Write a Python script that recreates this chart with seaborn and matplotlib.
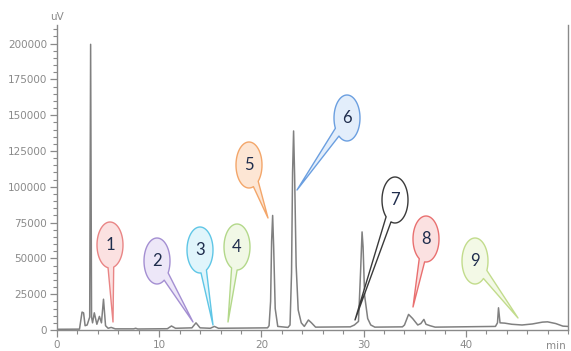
import numpy as np
import pandas as pd
import matplotlib
matplotlib.use("Agg")
import matplotlib.pyplot as plt
import seaborn as sns
from matplotlib.patches import Polygon
from matplotlib.ticker import MultipleLocator
from matplotlib.transforms import blended_transform_factory

# ---- data ----
time_min = [0.0, 2.2, 2.45, 2.6, 2.75, 2.95, 3.2, 3.29, 3.38, 3.48, 3.65, 3.9, 4.15, 4.35,
            4.55, 4.75, 5.0, 5.3, 5.7, 7.5, 7.7, 7.9, 10.8, 11.2, 11.6, 13.2, 13.6, 14.0,
            15.0, 15.4, 15.8, 20.6, 20.75, 20.9, 21.0, 21.1, 21.2, 21.35, 21.6, 22.6, 22.8,
            22.95, 23.05, 23.15, 23.25, 23.4, 23.6, 23.9, 24.2, 24.6, 24.9, 25.3, 28.7, 29.1,
            29.5, 29.7, 29.85, 29.95, 30.1, 30.4, 30.7, 31.1, 33.8, 34.0, 34.4, 34.8, 35.3,
            35.6, 35.9, 36.1, 36.5, 37.0, 42.9, 43.1, 43.2, 43.35, 43.8, 44.5, 45.5, 46.5,
            47.5, 48.0, 48.8, 49.5, 50.0]
signal_uv = [500, 600, 12500, 12000, 3000, 3500, 9000, 199500, 9000, 5000, 12000, 4000, 9500, 5000,
             21500, 3000, 1200, 1800, 800, 800, 1200, 700, 900, 2800, 1200, 1500, 5000, 1500,
             1200, 2500, 1200, 1500, 3000, 20000, 62000, 80000, 58000, 15000, 2500, 1800, 3500,
             40000, 110000, 139000, 108000, 45000, 14000, 5000, 2500, 7000, 5000, 2000, 2200, 3500,
             6000, 40000, 68500, 58000, 24000, 8000, 3500, 2000, 2200, 3500, 10900, 8000, 3500,
             4500, 7400, 4000, 3000, 2000, 2500, 5000, 15500, 5000, 4800, 4000, 3500, 4200,
             5500, 5700, 4500, 2700, 2500]
peak_labels = ["1", "2", "3", "4", "5", "6", "7", "8", "9"]

# ---- callout layout (pixel positions of balloon centres and pointer tips) ----
balloon_px = [(110, 245), (157, 261), (200, 250), (237, 247), (249, 165),
              (347, 118), (395, 200), (426, 239), (475, 261)]
tip_px = [(113, 322), (193, 322), (213, 325), (228, 322), (268, 218),
          (297, 190), (355, 320), (413, 307), (518, 318)]
edge_cols = ["#e98585", "#a48fd2", "#5fc6e6", "#b3d88a", "#f3a66a",
             "#6b9fe0", "#3a3a3a", "#e97070", "#c2dc8c"]
fill_cols = ["#fbe1e1", "#ede7f8", "#e0f5fb", "#f1f8e6", "#fde6d4",
             "#e3eefb", "#ffffff", "#fbe1e1", "#f3f9e6"]

sns.set_theme(style="ticks")
plt.rcParams["font.family"] = ["DejaVu Sans"]

W, H = 571, 351
fig = plt.figure(figsize=(W / 100, H / 100), dpi=100)
left, right, bottom, top = 57, 568, 330, 25
ax = fig.add_axes([left / W, 1 - bottom / H, (right - left) / W, (bottom - top) / H])

df = pd.DataFrame({"t": time_min, "s": signal_uv})
sns.lineplot(data=df, x="t", y="s", ax=ax, color="#808080", linewidth=1.1,
             sort=False, estimator=None)

ax.set_xlim(0, 50)
ax.set_ylim(0, 213000)
ax.set_xlabel("")
ax.set_ylabel("")

grey = "#8a8a8a"
ax.set_xticks([0, 10, 20, 30, 40])
ax.set_xticklabels(["0", "10", "20", "30", "40"])
ax.set_yticks(np.arange(0, 200001, 25000))
ax.set_yticklabels([str(v) for v in range(0, 200001, 25000)])
ax.yaxis.set_minor_locator(MultipleLocator(5000))
ax.xaxis.set_minor_locator(MultipleLocator(2))
ax.tick_params(axis="both", which="major", colors=grey, labelcolor=grey, labelsize=7.5,
               length=5, width=0.9, direction="out", pad=2)
ax.tick_params(axis="both", which="minor", colors=grey, length=3, width=0.8, direction="out")

for side in ["left", "bottom", "right"]:
    ax.spines[side].set_color(grey)
    ax.spines[side].set_linewidth(1.0)
ax.spines["top"].set_visible(False)

bt = blended_transform_factory(ax.transData, ax.transAxes)
ax.text(0, 1.01, "uV", transform=bt, ha="center", va="bottom", fontsize=7.5, color=grey)
ax.text(48.8, -0.035, "min", transform=bt, ha="center", va="top", fontsize=7.5, color=grey)

# ---- balloons ----
inv = ax.transData.inverted()
a, b = 13.0, 23.0
for lab, (cx, cy), (tx, ty), ec, fc in zip(peak_labels, balloon_px, tip_px, edge_cols, fill_cols):
    cxd, cyd = cx, H - cy
    txd, tyd = tx, H - ty
    phi0 = np.arctan2((tyd - cyd) / b, (txd - cxd) / a)
    d = 0.22
    phis = np.linspace(phi0 + d, phi0 + 2 * np.pi - d, 80)
    pts = [(cxd + a * np.cos(p), cyd + b * np.sin(p)) for p in phis]
    pts.append((txd, tyd))
    data_pts = inv.transform(np.array(pts))
    poly = Polygon(data_pts, closed=True, facecolor=fc, edgecolor=ec, linewidth=1.0,
                   zorder=5, joinstyle="round")
    ax.add_patch(poly)
    cxy = inv.transform((cxd, cyd))
    ax.text(cxy[0], cxy[1], lab, ha="center", va="center", fontsize=12, color="#1f2d4d",
            zorder=6, family=["Lato", "DejaVu Sans"])

fig.savefig("out.png", dpi=100)
